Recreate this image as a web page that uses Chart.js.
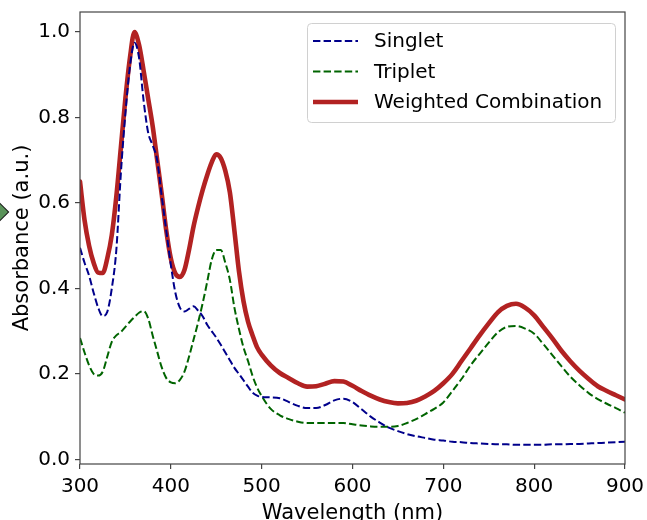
<!DOCTYPE html>
<html><head><meta charset="utf-8">
<script src="https://cdn.jsdelivr.net/npm/chart.js@4"></script>
<style>
html,body{margin:0;padding:0;background:#fff;overflow:hidden;}
#wrap{position:relative;width:647px;height:520px;background:#fff;}
#deco{position:absolute;left:-10.5px;top:203.5px;width:14px;height:14px;transform:rotate(45deg);background:#5a935a;border:1.5px solid #111;}
</style></head><body>
<div id="wrap"><canvas id="c" width="647" height="520"></canvas><div id="deco"></div></div>
<script>
const wavelengths = [300,305,310,315,320,325,330,335,340,345,350,355,360,365,370,375,380,385,390,395,400,405,410,415,420,425,430,435,440,445,450,455,460,465,470,475,480,485,490,495,500,
  510,520,530,540,550,560,570,580,590,600,610,620,630,640,650,660,670,680,690,700,710,720,730,740,750,760,770,780,790,800,810,820,830,840,850,860,870,880,890,900];
const singlet = [0.495,0.46,0.43,0.39,0.355,0.335,0.345,0.40,0.49,0.67,0.81,0.92,0.975,0.94,0.84,0.765,0.735,0.70,0.615,0.535,0.455,0.39,0.355,0.346,0.352,0.358,0.348,0.335,0.315,0.30,0.285,0.268,0.25,0.232,0.214,0.20,0.185,0.17,0.156,0.149,0.146,
  0.145,0.143,0.134,0.125,0.12,0.12,0.127,0.138,0.142,0.134,0.117,0.10,0.086,0.074,0.066,0.059,0.054,0.05,0.046,0.044,0.041,0.04,0.038,0.037,0.036,0.035,0.035,0.034,0.034,0.034,0.034,0.035,0.035,0.036,0.036,0.037,0.038,0.039,0.04,0.041];
const triplet = [0.284,0.25,0.22,0.20,0.196,0.205,0.24,0.275,0.29,0.298,0.31,0.322,0.333,0.343,0.347,0.33,0.29,0.252,0.215,0.19,0.18,0.178,0.186,0.205,0.24,0.28,0.32,0.365,0.415,0.467,0.49,0.49,0.46,0.42,0.355,0.305,0.262,0.23,0.195,0.168,0.148,
  0.118,0.103,0.094,0.088,0.085,0.085,0.085,0.085,0.085,0.082,0.079,0.077,0.076,0.076,0.078,0.085,0.094,0.106,0.118,0.133,0.16,0.188,0.22,0.247,0.273,0.297,0.31,0.312,0.306,0.294,0.27,0.244,0.218,0.193,0.173,0.155,0.141,0.13,0.12,0.109];
const weighted = [0.65,0.56,0.5,0.46,0.437,0.436,0.47,0.525,0.615,0.73,0.845,0.94,1.0,0.97,0.91,0.845,0.78,0.70,0.62,0.535,0.47,0.435,0.427,0.443,0.49,0.545,0.59,0.63,0.665,0.695,0.714,0.705,0.675,0.625,0.535,0.44,0.37,0.322,0.29,0.262,0.245,
  0.22,0.202,0.19,0.178,0.17,0.171,0.177,0.183,0.182,0.172,0.16,0.149,0.14,0.134,0.131,0.132,0.137,0.147,0.16,0.178,0.20,0.23,0.26,0.29,0.318,0.344,0.359,0.364,0.355,0.337,0.31,0.283,0.254,0.229,0.207,0.188,0.171,0.16,0.15,0.14];
const xTicks = [300,400,500,600,700,800,900];
const yTicks = [0.0,0.2,0.4,0.6,0.8,1.0];
const seriesLabels = ['Singlet','Triplet','Weighted Combination'];
const seriesColors = ['#00008b','#006400','#b22222'];

const FONT = "'DejaVu Sans', sans-serif";
const toPts = arr => wavelengths.map((w,i)=>({x:w,y:arr[i]}));

const framePlugin = {
  id:'frame',
  afterDatasetsDraw(chart){
    const {ctx, chartArea:a} = chart;
    ctx.save();
    ctx.strokeStyle = '#444';
    ctx.lineWidth = 1.2;
    ctx.strokeRect(a.left, a.top, a.right-a.left, a.bottom-a.top);
    ctx.restore();
  }
};

const legendPlugin = {
  id:'mplLegend',
  afterDraw(chart){
    const {ctx, chartArea:a} = chart;
    const bx = a.right - 318, by = a.top + 11, bw = 308, bh = 99;
    ctx.save();
    ctx.beginPath();
    ctx.roundRect(bx+0.5, by+0.5, bw, bh, 4);
    ctx.fillStyle = 'rgba(255,255,255,0.8)';
    ctx.fill();
    ctx.strokeStyle = '#d0d0d0';
    ctx.lineWidth = 1;
    ctx.stroke();
    chart.data.datasets.forEach((ds,i)=>{
      const y = by + 18 + i*30.5;
      ctx.beginPath();
      ctx.setLineDash(ds.borderDash || []);
      ctx.lineWidth = ds.borderWidth;
      ctx.strokeStyle = ds.borderColor;
      ctx.moveTo(bx+6, y);
      ctx.lineTo(bx+51, y);
      ctx.stroke();
      ctx.setLineDash([]);
      ctx.fillStyle = '#000';
      ctx.font = "20px " + FONT;
      ctx.textBaseline = 'middle';
      ctx.textAlign = 'left';
      ctx.fillText(ds.label, bx+67, y+1);
    });
    ctx.restore();
  }
};

const dashed = [7.4, 3.2];
new Chart(document.getElementById('c').getContext('2d'), {
  type:'line',
  data:{ datasets:[
    {label:seriesLabels[0], data:toPts(singlet), borderColor:seriesColors[0], borderWidth:2, borderDash:dashed, pointRadius:0, fill:false, cubicInterpolationMode:'monotone'},
    {label:seriesLabels[1], data:toPts(triplet), borderColor:seriesColors[1], borderWidth:2, borderDash:dashed, pointRadius:0, fill:false, cubicInterpolationMode:'monotone'},
    {label:seriesLabels[2], data:toPts(weighted), borderColor:seriesColors[2], borderWidth:4.6, pointRadius:0, fill:false, cubicInterpolationMode:'monotone', borderCapStyle:'round', borderJoinStyle:'round'}
  ]},
  options:{
    responsive:false, animation:false, devicePixelRatio:1,
    layout:{padding:{top:12,right:22,left:0,bottom:0}},
    plugins:{legend:{display:false}, tooltip:{enabled:false}},
    scales:{
      x:{type:'linear', min:300, max:900,
        afterFit(s){ s.height = 56; s.paddingLeft = 0; s.paddingRight = 0; },
        afterBuildTicks(s){ s.ticks = xTicks.map(v=>({value:v})); },
        grid:{drawOnChartArea:false, drawTicks:true, tickLength:5, color:'#444', lineWidth:1.2},
        border:{display:false},
        ticks:{font:{family:FONT,size:20}, color:'#000', padding:6, maxRotation:0, autoSkip:false, callback:v=>String(v)},
        title:{display:true, text:'Wavelength (nm)', color:'#000', font:{family:FONT,size:21,lineHeight:1}, padding:{top:0,bottom:-4}}
      },
      y:{type:'linear', min:-0.011, max:1.047,
        afterFit(s){ s.width = 80; s.paddingTop = 0; s.paddingBottom = 0; },
        afterBuildTicks(s){ s.ticks = yTicks.map(v=>({value:v})); },
        grid:{drawOnChartArea:false, drawTicks:true, tickLength:5, color:'#444', lineWidth:1.2},
        border:{display:false},
        ticks:{font:{family:FONT,size:20}, color:'#000', padding:5, callback:v=>Number(v).toFixed(1)},
        title:{display:true, text:'Absorbance (a.u.)', color:'#000', font:{family:FONT,size:21,lineHeight:1}, padding:{top:12,bottom:0}}
      }
    }
  },
  plugins:[framePlugin, legendPlugin]
});
</script>
</body></html>
